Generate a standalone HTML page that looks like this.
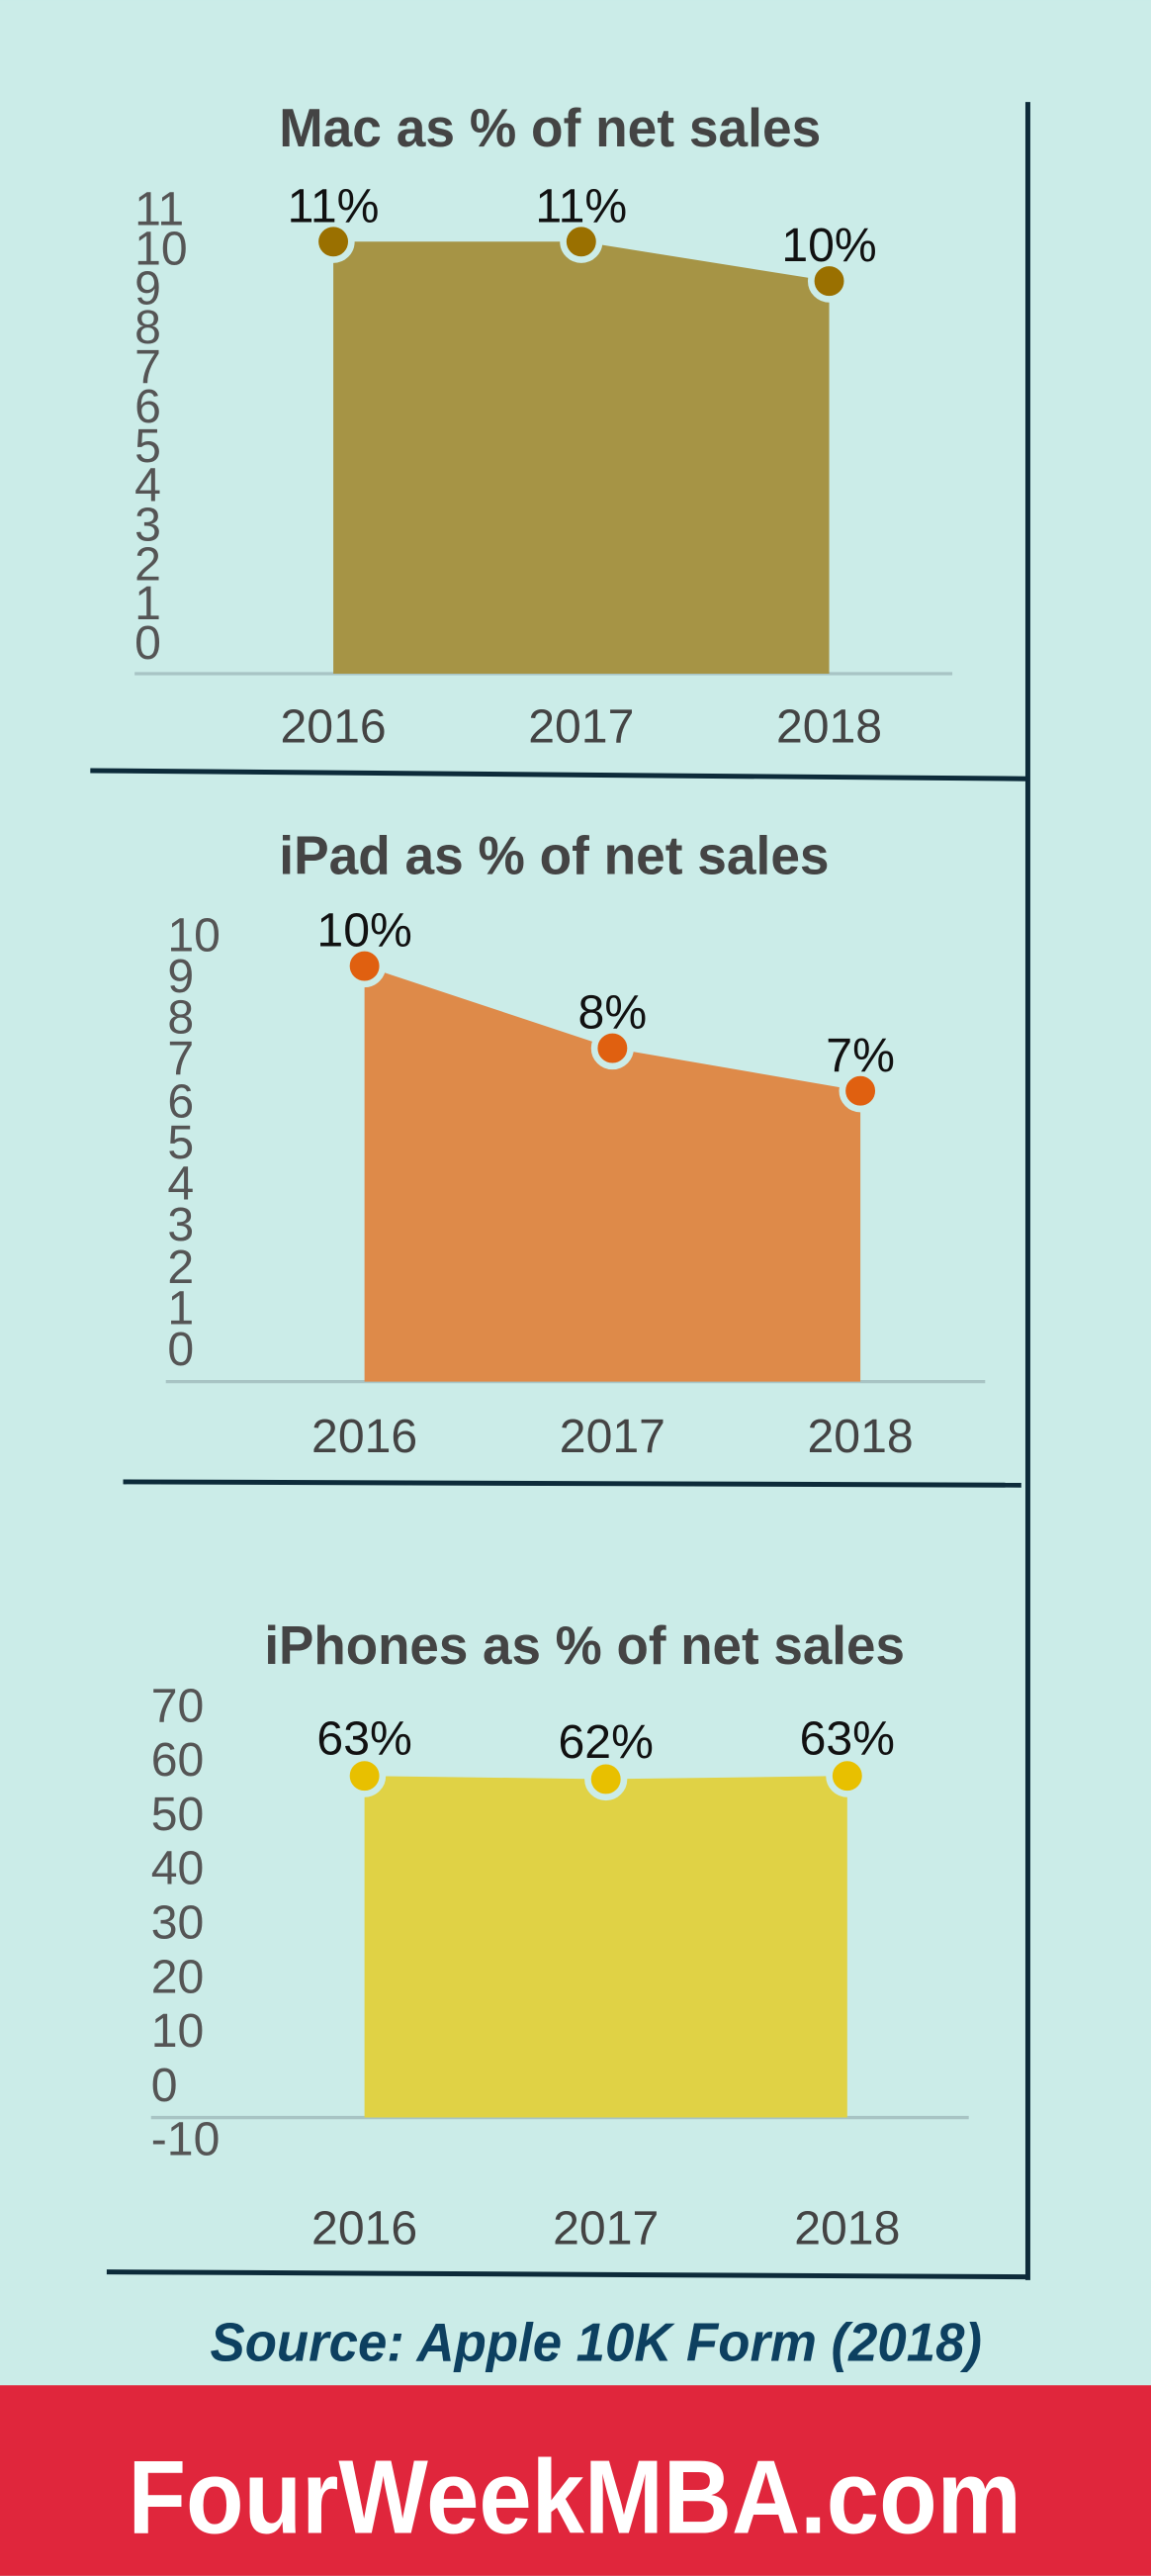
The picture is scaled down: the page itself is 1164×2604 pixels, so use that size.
<!DOCTYPE html>
<html><head><meta charset="utf-8"><style>
html,body{margin:0;padding:0;background:#cbece8;}
svg{display:block}
text{font-family:"Liberation Sans",sans-serif}
</style></head><body>
<svg width="1164" height="2604" viewBox="0 0 701 1568" xmlns="http://www.w3.org/2000/svg">
<rect width="701" height="1568" fill="#cbece8"/>
<g stroke="#0d2b3a" stroke-width="3">
<line x1="626" y1="62" x2="626" y2="1388"/>
<line x1="55" y1="469" x2="626" y2="474"/>
<line x1="75" y1="902" x2="622" y2="904"/>
<line x1="65" y1="1383" x2="626" y2="1386"/>
</g>
<!-- Chart 1 -->
<text x="170" y="89" textLength="330" lengthAdjust="spacingAndGlyphs" font-size="33" font-weight="bold" fill="#444">Mac as % of net sales</text>
<g font-size="29" fill="#555" transform="translate(82,0)">
<text y="137">11</text><text y="161">10</text><text y="185">9</text><text y="209">8</text><text y="233">7</text><text y="257">6</text><text y="281">5</text><text y="305">4</text><text y="329">3</text><text y="353">2</text><text y="377">1</text><text y="401">0</text>
</g>
<line x1="82" y1="410" x2="580" y2="410" stroke="#a8c4c4" stroke-width="2"/>
<polygon points="203,410 203,147 354,147 505,171 505,410" fill="#a69445"/>
<g fill="#9a7000" stroke="#cbece8" stroke-width="4">
<circle cx="203" cy="147" r="11"/><circle cx="354" cy="147" r="11"/><circle cx="505" cy="171" r="11"/></g>
<g font-size="29" fill="#111" text-anchor="middle">
<text x="203" y="135">11%</text><text x="354" y="135">11%</text><text x="505" y="159">10%</text></g>
<g font-size="29" fill="#444" text-anchor="middle">
<text x="203" y="452">2016</text><text x="354" y="452">2017</text><text x="505" y="452">2018</text></g>
<!-- Chart 2 -->
<text x="170" y="532" textLength="335" lengthAdjust="spacingAndGlyphs" font-size="33" font-weight="bold" fill="#444">iPad as % of net sales</text>
<g font-size="29" fill="#555" transform="translate(102,0)">
<text y="579">10</text><text y="604">9</text><text y="629">8</text><text y="654">7</text><text y="680">6</text><text y="705">5</text><text y="730">4</text><text y="755">3</text><text y="781">2</text><text y="806">1</text><text y="831">0</text>
</g>
<line x1="101" y1="841" x2="600" y2="841" stroke="#a8c4c4" stroke-width="2"/>
<polygon points="222,841 222,588 373,638 524,664 524,841" fill="#de8a49"/>
<g fill="#e06010" stroke="#cbece8" stroke-width="4">
<circle cx="222" cy="588" r="11"/><circle cx="373" cy="638" r="11"/><circle cx="524" cy="664" r="11"/></g>
<g font-size="29" fill="#111" text-anchor="middle">
<text x="222" y="576">10%</text><text x="373" y="626">8%</text><text x="524" y="652">7%</text></g>
<g font-size="29" fill="#444" text-anchor="middle">
<text x="222" y="884">2016</text><text x="373" y="884">2017</text><text x="524" y="884">2018</text></g>
<!-- Chart 3 -->
<text x="161" y="1013" textLength="390" lengthAdjust="spacingAndGlyphs" font-size="33" font-weight="bold" fill="#444">iPhones as % of net sales</text>
<g font-size="29" fill="#555" transform="translate(92,0)">
<text y="1048">70</text><text y="1081">60</text><text y="1114">50</text><text y="1147">40</text><text y="1180">30</text><text y="1213">20</text><text y="1246">10</text><text y="1279">0</text><text y="1312">-10</text>
</g>
<line x1="92" y1="1289" x2="590" y2="1289" stroke="#a8c4c4" stroke-width="2"/>
<polygon points="222,1289 222,1081 369,1083 516,1081 516,1289" fill="#e0d245"/>
<g fill="#e8c000" stroke="#cbece8" stroke-width="4">
<circle cx="222" cy="1081" r="11"/><circle cx="369" cy="1083" r="11"/><circle cx="516" cy="1081" r="11"/></g>
<g font-size="29" fill="#111" text-anchor="middle">
<text x="222" y="1068">63%</text><text x="369" y="1070">62%</text><text x="516" y="1068">63%</text></g>
<g font-size="29" fill="#444" text-anchor="middle">
<text x="222" y="1366">2016</text><text x="369" y="1366">2017</text><text x="516" y="1366">2018</text></g>
<!-- Source -->
<text x="128" y="1437" textLength="470" lengthAdjust="spacingAndGlyphs" font-size="33" font-weight="bold" font-style="italic" fill="#0d4060">Source: Apple 10K Form (2018)</text>
<rect x="0" y="1452" width="701" height="116" fill="#e0263c"/>
<text x="78" y="1542" textLength="544" lengthAdjust="spacingAndGlyphs" font-size="64" font-weight="bold" fill="#fff">FourWeekMBA.com</text>
</svg>
</body></html>
